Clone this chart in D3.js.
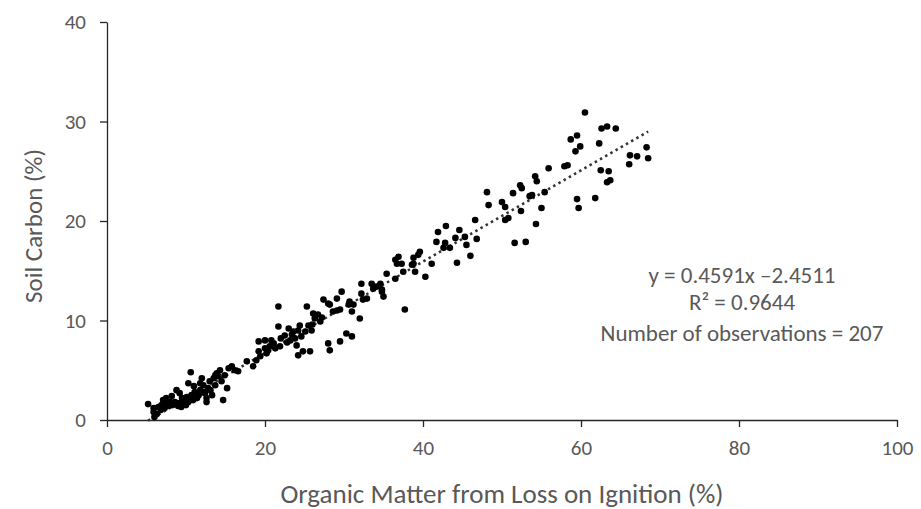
<!DOCTYPE html>
<html>
<head>
<meta charset="utf-8">
<script src="https://cdn.jsdelivr.net/npm/d3@7"></script>
<style>
  body { margin: 0; background: #fff; }
  text { font-family: Carlito, Calibri, Lato, "Open Sans", sans-serif; fill: #595959; }
</style>
</head>
<body>
<script>
// chart size
var svgWidth = 921;
var svgHeight = 509;

var chartMargin = { top: 22, right: 24, bottom: 89, left: 107 };

var chartWidth = svgWidth - chartMargin.left - chartMargin.right;
var chartHeight = svgHeight - chartMargin.top - chartMargin.bottom;

// data: [organic matter LOI %, soil carbon %]
var lowRange = [
  [5.2,1.6],[5.9,0.8],[6.0,0.3],[5.9,1.2],[6.5,1.3],[6.3,0.6],[6.9,1.5],[7.1,2.0],[7.3,1.2],[7.6,1.7],
  [7.8,1.4],[8.0,1.8],[8.3,1.5],[8.6,1.8],[8.8,3.0],[9.0,1.4],[9.2,1.7],[9.2,2.7],[9.5,2.2],[9.7,1.6],
  [9.9,2.0],[10.1,2.3],[10.3,1.8],[10.3,3.7],[10.6,4.8],[10.7,2.5],[10.9,2.0],[11.1,2.8],[11.4,2.2],[11.8,3.0],
  [11.8,3.7],[12.2,3.5],[12.2,2.8],[12.4,2.7],[12.6,2.2],[12.6,1.8],[12.8,3.2],[13.0,3.9],[13.3,2.5],[13.5,4.2],
  [13.7,3.5],[13.7,4.5],[13.9,4.7],[14.1,4.4],[14.3,5.0],[14.7,2.0],[14.9,4.5],[15.2,3.2],[15.4,5.2],[15.8,5.4],
  [16.2,5.0],[16.6,4.9],[6.8,1.0],[7.5,2.2],[8.2,2.4],[9.4,1.3],[10.0,1.5],[10.5,2.1],[11.0,3.4],[11.6,2.5],
  [12.0,4.2],[13.1,3.0],[14.5,3.9]
];
var midRange = [
  [17.7,5.9],[18.5,5.4],[18.9,6.0],[19.2,6.9],[19.4,6.4],[19.2,7.9],[20.0,8.0],[20.0,7.2],[20.2,6.7],[20.6,7.4],
  [20.8,8.0],[21.1,7.7],[21.3,7.2],[21.7,9.4],[21.7,11.4],[21.9,7.4],[22.5,8.5],[23.0,9.2],[23.2,8.0],[23.4,8.6],
  [23.6,8.9],[24.0,7.5],[24.2,6.5],[24.2,9.0],[24.4,9.5],[24.6,8.4],[24.8,6.9],[25.1,8.9],[25.3,11.4],[25.5,9.5],
  [25.7,6.9],[25.9,9.0],[26.1,10.7],[26.3,10.2],[26.7,10.6],[27.0,9.9],[27.2,10.3],[27.4,12.1],[28.0,11.7],[28.0,7.7],
  [28.2,7.0],[28.2,11.6],[28.6,10.9],[29.1,12.2],[29.1,11.0],[29.5,7.9],[29.7,12.9],[29.5,11.1],[30.3,8.7],[30.6,11.6],
  [31.0,8.4],[30.7,11.9],[31.2,11.6],[31.0,10.9],[20.4,7.0],[22.0,8.2],[22.8,7.8],[23.8,8.2],[26.0,9.6]
];
var upperRange = [
  [32.0,10.2],[32.2,13.7],[32.2,12.7],[32.4,12.1],[32.9,12.2],[33.5,13.7],[33.7,13.2],[34.1,13.4],[34.6,13.7],[34.8,13.1],
  [34.8,12.9],[35.0,12.4],[35.4,14.7],[36.5,14.2],[36.5,16.1],[36.7,15.7],[36.9,16.4],[37.3,15.7],[37.5,14.9],[37.7,11.1],
  [38.6,15.6],[38.8,16.3],[38.8,15.7],[39.0,14.9],[39.4,16.6],[39.6,16.9],[40.3,14.4],[41.1,15.7],[41.7,17.9],[41.9,18.9],
  [42.6,17.3],[42.8,17.8],[42.9,19.5],[43.4,17.3],[44.1,18.3],[44.3,15.8],[44.6,19.1],[45.3,18.4],[45.5,17.6],[46.0,16.5],
  [46.6,20.1],[46.8,18.2]
];
var highRange = [
  [48.1,22.9],[48.3,21.6],[50.0,21.9],[50.4,21.4],[50.4,20.1],[50.8,20.3],[51.4,22.8],[51.6,17.8],[52.3,23.6],[52.5,23.3],
  [52.4,21.0],[53.0,17.9],[53.5,22.5],[53.8,22.6],[54.2,24.5],[54.4,24.0],[54.3,19.7],[55.0,21.3],[55.4,22.9],[55.9,25.3],
  [57.9,25.5],[58.3,25.6],[58.7,28.2],[59.5,28.6],[59.3,27.0],[59.9,27.5],[59.5,22.2],[59.7,21.3],[60.5,30.9],[61.8,22.3],
  [62.3,27.8],[62.6,29.3],[63.3,29.5],[64.4,29.3],[62.5,25.1],[63.5,25.0],[63.3,23.9],[63.7,24.1],[66.1,25.7],[66.2,26.6],
  [67.1,26.5],[68.3,27.4],[68.5,26.3]
];

// regression line from the chart
var slope = 0.4591;
var intercept = -2.4511;
var annotationLines = ["y = 0.4591x \u20132.4511", "R\u00b2 = 0.9644", "Number  of observations = 207"];

var xTicks = [0, 20, 40, 60, 80, 100];
var yTicks = [0, 10, 20, 30, 40];

var points = lowRange.concat(midRange, upperRange, highRange);

var svg = d3.select("body")
  .append("svg")
  .attr("width", svgWidth)
  .attr("height", svgHeight);

var chartGroup = svg.append("g")
  .attr("transform", `translate(${chartMargin.left}, ${chartMargin.top})`);

var xScale = d3.scaleLinear().domain([0, 100]).range([0, chartWidth]);
var yScale = d3.scaleLinear().domain([0, 40]).range([chartHeight, 0]);

var xAxis = d3.axisBottom(xScale).tickValues(xTicks).tickSize(7).tickSizeOuter(0).tickPadding(13);
var yAxis = d3.axisLeft(yScale).tickValues(yTicks).tickSize(7).tickSizeOuter(0).tickPadding(14);

var xg = chartGroup.append("g")
  .attr("transform", `translate(0, ${chartHeight})`)
  .call(xAxis);
var yg = chartGroup.append("g").call(yAxis);

[xg, yg].forEach(function(g) {
  g.selectAll("path, line").attr("stroke", "#262626").attr("stroke-width", 1.3);
  g.selectAll("text").style("font-size", "21px").attr("fill", "#595959");
});

// trendline over the data range
var xExtent = d3.extent(points, d => d[0]);
chartGroup.append("line")
  .attr("x1", xScale(xExtent[0]))
  .attr("y1", yScale(slope * xExtent[0] + intercept))
  .attr("x2", xScale(xExtent[1]))
  .attr("y2", yScale(slope * xExtent[1] + intercept))
  .attr("stroke", "#333")
  .attr("stroke-width", 2.5)
  .attr("stroke-dasharray", "2.5,3.5");

chartGroup.selectAll(".dot")
  .data(points)
  .enter()
  .append("circle")
  .classed("dot", true)
  .attr("cx", d => xScale(d[0]))
  .attr("cy", d => yScale(d[1]))
  .attr("r", 3.3)
  .attr("fill", "#000");

// equation text
var noteY = [261, 288, 319];
chartGroup.selectAll(".note")
  .data(annotationLines)
  .enter()
  .append("text")
  .classed("note", true)
  .attr("x", 635)
  .attr("y", (d, i) => noteY[i])
  .attr("text-anchor", "middle")
  .style("font-size", "23px")
  .text(d => d);

// axis titles
svg.append("text")
  .attr("x", chartMargin.left + chartWidth / 2)
  .attr("y", 503)
  .attr("text-anchor", "middle")
  .style("font-size", "27px")
  .text("Organic Matter from Loss on Ignition (%)");

svg.append("text")
  .attr("transform", "translate(42, 226) rotate(-90)")
  .attr("text-anchor", "middle")
  .style("font-size", "25px")
  .text("Soil Carbon (%)");
</script>
</body>
</html>
